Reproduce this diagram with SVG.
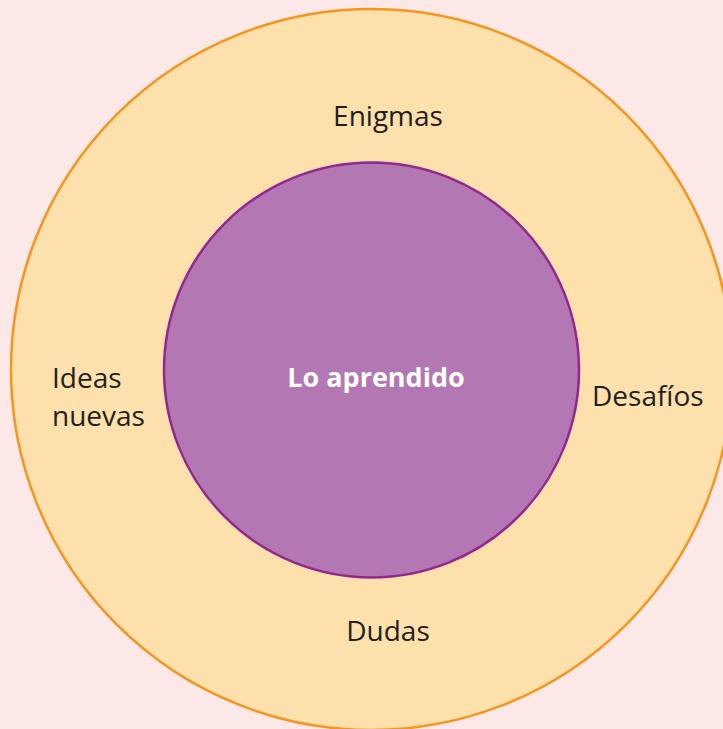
<svg xmlns="http://www.w3.org/2000/svg" width="723" height="729" viewBox="0 0 723 729">
<style>
.lbl{font-family:"Open Sans","Noto Sans",sans-serif;font-size:28px;fill:#231f20}
.ctr{font-family:"Open Sans","Noto Sans",sans-serif;font-size:27px;font-weight:bold;fill:#ffffff}
</style>
<rect width="723" height="729" fill="#fde8e8"/>
<g id="outer">
<circle cx="371.5" cy="369.5" r="360.5" fill="#fde0ab" stroke="#f7941d" stroke-width="2.5"/>
<text class="lbl" x="388" y="126" text-anchor="middle">Enigmas</text>
<text class="lbl" x="52" y="388">Ideas</text>
<text class="lbl" x="52" y="426">nuevas</text>
<text class="lbl" x="592" y="406">Desafíos</text>
<text class="lbl" x="388" y="641" text-anchor="middle">Dudas</text>
</g>
<g id="inner">
<circle cx="371.5" cy="370" r="207.5" fill="#b377b3" stroke="#92278f" stroke-width="2.5"/>
<text class="ctr" x="376" y="387" text-anchor="middle">Lo aprendido</text>
</g>
<g id="connectors"/>
</svg>
